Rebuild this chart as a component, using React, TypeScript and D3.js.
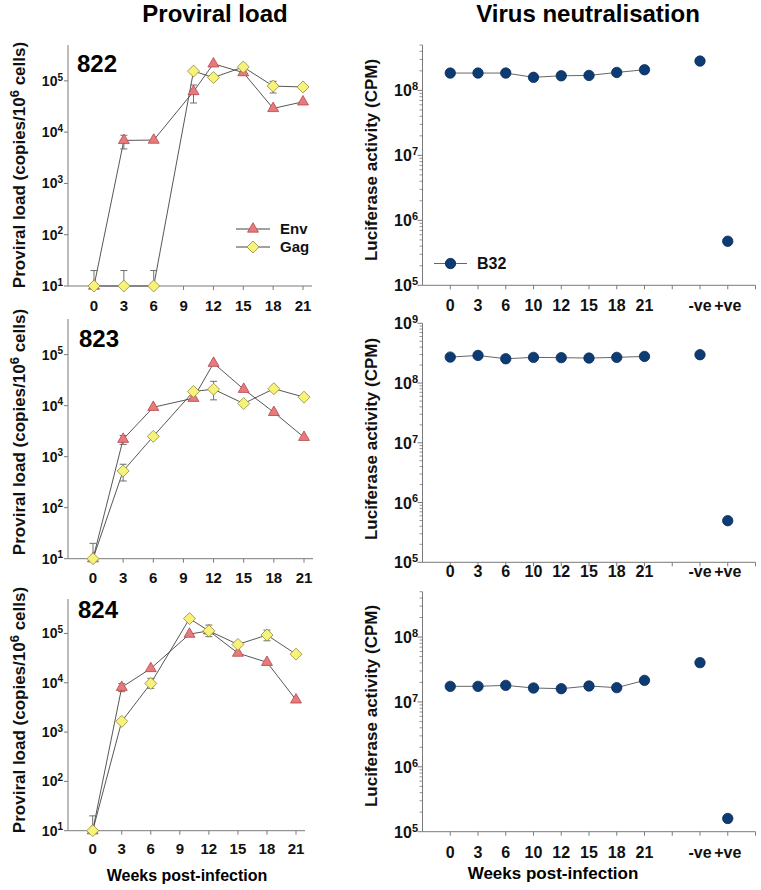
import React from "react";
import * as d3 from "d3";

const weeks = [0, 3, 6, 10, 12, 15, 18, 21];
const weekTicks = [0, 3, 6, 9, 12, 15, 18, 21];

const env822 = [10, 6900, 7000, 62000, 215000, 145000, 29000, 39000];
const gag822 = [10, 10, 10, 155000, 116000, 186000, 79000, 76000];
const env823 = [10, 2200, 9300, 14000, 68000, 21000, 7400, 2400];
const gag823 = [10, 525, 2500, 19000, 21000, 11000, 21500, 14700];
const env824 = [10, 8100, 19500, 97000, 113000, 40000, 26000, 4500];
const gag824 = [10, 1650, 9700, 200000, 113000, 60000, 93000, 38000];

// error bars: [series, week index, low, high]
const err822: [string, number, number, number][] = [
  ["Gag", 0, 10, 20], ["Gag", 1, 10, 20], ["Gag", 2, 10, 20],
  ["Env", 1, 4700, 8700], ["Env", 3, 37000, 83000], ["Gag", 6, 58000, 98000],
];
const err823: [string, number, number, number][] = [
  ["Gag", 0, 10, 20], ["Env", 1, 1740, 2600], ["Gag", 1, 334, 710], ["Gag", 4, 13000, 30000],
];
const err824: [string, number, number, number][] = [
  ["Gag", 0, 10, 20], ["Env", 1, 6600, 9600], ["Gag", 2, 7700, 12300],
  ["Gag", 4, 86000, 148000], ["Gag", 6, 71000, 117000],
];

const neutCats = ["0", "3", "6", "10", "12", "15", "18", "21", "", "-ve", "+ve"];
const b32_822 = [1.85e8, 1.85e8, 1.85e8, 1.59e8, 1.68e8, 1.7e8, 1.89e8, 2.08e8];
const ctrl822 = [2.83e8, 4.77e5];
const b32_823 = [2.72e8, 2.9e8, 2.55e8, 2.69e8, 2.66e8, 2.62e8, 2.69e8, 2.79e8];
const ctrl823 = [2.98e8, 4.97e5];
const b32_824 = [1.74e7, 1.74e7, 1.8e7, 1.64e7, 1.6e7, 1.76e7, 1.66e7, 2.15e7];
const ctrl824 = [4.03e7, 1.6e5];
const ctrlErr824: [number, number, number][] = [[0, 3.5e7, 4.6e7]];

const FONT = "'Liberation Sans', Arial, sans-serif";
const AXIS = "#7a7a7a";
const ENV_FILL = "#e87a7c";
const ENV_STROKE = "#b0484c";
const GAG_FILL = "#f7f27a";
const GAG_STROKE = "#8f8a3a";
const BLUE = "#0d3c74";

function Sup({ base, exp, size, supSize }: { base: string; exp: string; size: number; supSize: number }) {
  return (
    <>
      <tspan fontSize={size}>{base}</tspan>
      <tspan fontSize={supSize} dy={-size * 0.38}>{exp}</tspan>
    </>
  );
}

function Triangle({ x, y }: { x: number; y: number }) {
  const p = d3.symbol().type(d3.symbolTriangle).size(52)();
  return <path d={p || ""} transform={`translate(${x},${y})`} fill={ENV_FILL} stroke={ENV_STROKE} strokeWidth={0.8} />;
}
function Diamond({ x, y }: { x: number; y: number }) {
  const r = 6;
  return (
    <path d={`M${x},${y - r}L${x + r},${y}L${x},${y + r}L${x - r},${y}Z`} fill={GAG_FILL} stroke={GAG_STROKE} strokeWidth={0.8} />
  );
}
function Dot({ x, y }: { x: number; y: number }) {
  return <circle cx={x} cy={y} r={5.2} fill={BLUE} stroke="#072a55" strokeWidth={0.8} />;
}

function ErrBar({ x, y1, y2 }: { x: number; y1: number; y2: number }) {
  return (
    <g stroke="#6e6e6e" strokeWidth={1}>
      <line x1={x} x2={x} y1={y1} y2={y2} />
      <line x1={x - 3.5} x2={x + 3.5} y1={y1} y2={y1} />
      <line x1={x - 3.5} x2={x + 3.5} y1={y2} y2={y2} />
    </g>
  );
}

type LoadProps = {
  label: string;
  env: number[];
  gag: number[];
  errs: [string, number, number, number][];
  yBottom: number;
  yTop: number;
  x0: number;
  x21: number;
  xEnd: number;
  labelPos: [number, number];
  tickLabelY: number;
  yLabelCenter: number;
  legend?: boolean;
};

function LoadPanel(p: LoadProps) {
  const axisX = 68;
  const x = d3.scaleLinear().domain([0, 21]).range([p.x0, p.x21]);
  const y = d3.scaleLog().domain([10, 5e5]).range([p.yBottom, p.yTop]);
  const line = d3.line<number>().x((_, i) => x(weeks[i])).y((d) => y(d));
  const majors = [10, 100, 1000, 10000, 100000];
  return (
    <g fontFamily={FONT} fontWeight="bold">
      <line x1={axisX} x2={axisX} y1={p.yTop} y2={p.yBottom} stroke={AXIS} />
      <line x1={axisX} x2={p.xEnd} y1={p.yBottom} y2={p.yBottom} stroke={AXIS} />
      {majors.map((m) => (
        <g key={m}>
          <line x1={axisX - 4} x2={axisX} y1={y(m)} y2={y(m)} stroke={AXIS} />
          <text x={axisX - 5} y={y(m) + 5} textAnchor="end" fill="#111">
            <Sup base="10" exp={String(Math.round(Math.log10(m)))} size={14} supSize={10} />
          </text>
        </g>
      ))}
      {weekTicks.map((w) => (
        <g key={w}>
          <line x1={x(w)} x2={x(w)} y1={p.yBottom} y2={p.yBottom + 4} stroke={AXIS} />
          <text x={x(w)} y={p.tickLabelY} textAnchor="middle" fontSize={15} fill="#111">{w}</text>
        </g>
      ))}
      <text
        transform={`translate(25,${p.yLabelCenter}) rotate(-90)`}
        textAnchor="middle"
        fontSize={17}
        fill="#111"
      >
        Proviral load (copies/10
        <tspan fontSize={13} dy={-6}>6</tspan>
        <tspan dy={6}> cells)</tspan>
      </text>
      <text x={p.labelPos[0]} y={p.labelPos[1]} fontSize={24} fill="#000">{p.label}</text>
      <path d={line(p.env) || ""} fill="none" stroke="#444" strokeWidth={0.9} />
      <path d={line(p.gag) || ""} fill="none" stroke="#444" strokeWidth={0.9} />
      {p.errs.map(([s, i, lo, hi], k) => (
        <ErrBar key={k} x={x(weeks[i])} y1={y(hi)} y2={y(lo)} />
      ))}
      {p.env.map((v, i) => <Triangle key={"e" + i} x={x(weeks[i])} y={y(v)} />)}
      {p.gag.map((v, i) => <Diamond key={"g" + i} x={x(weeks[i])} y={y(v)} />)}
      {p.legend && (
        <g>
          <line x1={236} x2={270} y1={229} y2={229} stroke="#444" />
          <Triangle x={253} y={229} />
          <text x={280} y={234} fontSize={15} fill="#111">Env</text>
          <line x1={236} x2={270} y1={247} y2={247} stroke="#444" />
          <Diamond x={253} y={247} />
          <text x={280} y={252} fontSize={15} fill="#111">Gag</text>
        </g>
      )}
    </g>
  );
}

type NeutProps = {
  vals: number[];
  ctrl: number[];
  ctrlErr?: [number, number, number][];
  top: number;
  yBottom: number;
  yTop: number;
  tickLabelY: number;
  yLabelCenter: number;
  legend?: boolean;
};

function NeutPanel(p: NeutProps) {
  const axisX = 422.5;
  const x = d3.scaleLinear().domain([-1, 11]).range([axisX, 755.5]);
  const y = d3.scaleLog().domain([1e5, p.top]).range([p.yBottom, p.yTop]);
  const line = d3.line<number>().x((_, i) => x(i)).y((d) => y(d));
  const exps = d3.range(5, Math.floor(Math.log10(p.top)) + 1);
  const minors: number[] = [];
  for (let e = 5; e <= 9; e++) {
    for (let m = 2; m <= 9; m++) {
      const v = m * Math.pow(10, e);
      if (v <= p.top) minors.push(v);
    }
  }
  return (
    <g fontFamily={FONT} fontWeight="bold">
      <line x1={axisX} x2={axisX} y1={p.yTop} y2={p.yBottom} stroke={AXIS} />
      <line x1={axisX} x2={755.5} y1={p.yBottom} y2={p.yBottom} stroke={AXIS} />
      {minors.map((m) => (
        <line key={m} x1={axisX - 3} x2={axisX} y1={y(m)} y2={y(m)} stroke={AXIS} strokeWidth={0.8} />
      ))}
      {exps.map((e) => (
        <g key={e}>
          <line x1={axisX - 5} x2={axisX} y1={y(Math.pow(10, e))} y2={y(Math.pow(10, e))} stroke={AXIS} />
          <text x={418} y={y(Math.pow(10, e)) + 6} textAnchor="end" fill="#111">
            <Sup base="10" exp={String(e)} size={16} supSize={11} />
          </text>
        </g>
      ))}
      {d3.range(0, 12).map((i) => (
        <line key={i} x1={x(i)} x2={x(i)} y1={p.yBottom} y2={p.yBottom + 4} stroke={AXIS} />
      ))}
      {neutCats.map((c, i) => (
        <text key={i} x={x(i)} y={p.tickLabelY} textAnchor="middle" fontSize={16} fill="#111">{c}</text>
      ))}
      <text
        transform={`translate(377,${p.yLabelCenter}) rotate(-90)`}
        textAnchor="middle"
        fontSize={17}
        fill="#111"
      >
        Luciferase activity (CPM)
      </text>
      <path d={line(p.vals) || ""} fill="none" stroke="#666" strokeWidth={1} />
      {(p.ctrlErr || []).map(([i, lo, hi], k) => (
        <ErrBar key={k} x={x(9 + i)} y1={y(hi)} y2={y(lo)} />
      ))}
      {p.vals.map((v, i) => <Dot key={i} x={x(i)} y={y(v)} />)}
      {p.ctrl.map((v, i) => <Dot key={"c" + i} x={x(9 + i)} y={y(v)} />)}
      {p.legend && (
        <g>
          <line x1={434} x2={467} y1={263.5} y2={263.5} stroke="#666" />
          <Dot x={450.5} y={263.5} />
          <text x={477} y={269} fontSize={16} fill="#111">B32</text>
        </g>
      )}
    </g>
  );
}

export default function App() {
  return (
    <svg width={761} height={890} style={{ display: "block", position: "absolute", left: 0, top: 0, background: "#fff" }}>
      <text x={215} y={22} textAnchor="middle" fontFamily={FONT} fontWeight="bold" fontSize={24}>Proviral load</text>
      <text x={588} y={22} textAnchor="middle" fontFamily={FONT} fontWeight="bold" fontSize={24}>Virus neutralisation</text>

      <LoadPanel label="822" env={env822} gag={gag822} errs={err822} yBottom={286} yTop={45} x0={94} x21={303} xEnd={312}
        labelPos={[77, 72]} tickLabelY={310.5} yLabelCenter={165} legend />
      <LoadPanel label="823" env={env823} gag={gag823} errs={err823} yBottom={558.7} yTop={319} x0={93} x21={304} xEnd={313}
        labelPos={[79, 347]} tickLabelY={582.5} yLabelCenter={432} />
      <LoadPanel label="824" env={env824} gag={gag824} errs={err824} yBottom={830.7} yTop={599} x0={92.7} x21={296} xEnd={305}
        labelPos={[78, 618]} tickLabelY={853.5} yLabelCenter={710} />

      <NeutPanel vals={b32_822} ctrl={ctrl822} top={5e8} yBottom={285.3} yTop={45} tickLabelY={310.5} yLabelCenter={160} legend />
      <NeutPanel vals={b32_823} ctrl={ctrl823} top={1e9} yBottom={562.3} yTop={323.3} tickLabelY={577} yLabelCenter={439} />
      <NeutPanel vals={b32_824} ctrl={ctrl824} ctrlErr={ctrlErr824} top={5e8} yBottom={831.7} yTop={591.7} tickLabelY={857.5} yLabelCenter={706} />

      <text x={187} y={881} textAnchor="middle" fontFamily={FONT} fontWeight="bold" fontSize={16}>Weeks post-infection</text>
      <text x={553} y={879} textAnchor="middle" fontFamily={FONT} fontWeight="bold" fontSize={17}>Weeks post-infection</text>
    </svg>
  );
}
